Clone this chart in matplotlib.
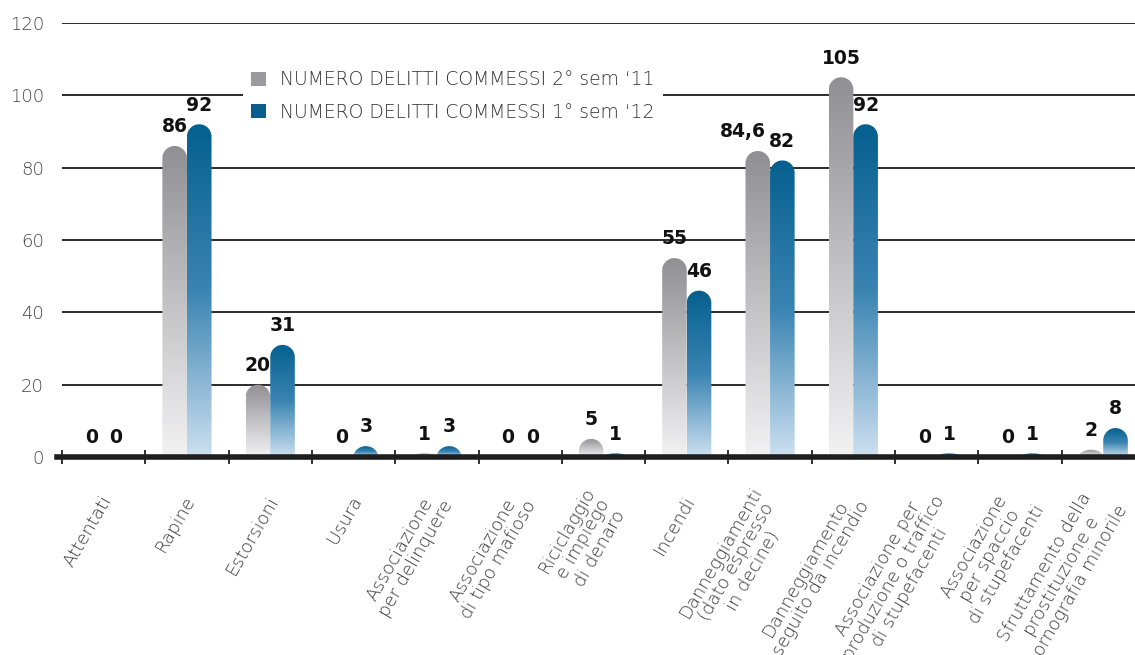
import numpy as np
import matplotlib
matplotlib.use('Agg')
import matplotlib.pyplot as plt
from matplotlib.colors import LinearSegmentedColormap
from matplotlib.patches import Patch, PathPatch
from matplotlib.path import Path
from matplotlib.transforms import ScaledTranslation

categories = [
    'Attentati',
    'Rapine',
    'Estorsioni',
    'Usura',
    'Associazione\nper delinquere',
    'Associazione\ndi tipo mafioso',
    'Riciclaggio\ne impiego\ndi denaro',
    'Incendi',
    'Danneggiamenti\n(dato espresso\nin decine)',
    'Danneggiamento\nseguito da incendio',
    'Associazione per\nproduzione o traffico\ndi stupefacenti',
    'Associazione\nper spaccio\ndi stupefacenti',
    'Sfruttamento della\nprostituzione e\npornografia minorile',
]
sem2_2011 = [0, 86, 20, 0, 1, 0, 5, 55, 84.6, 105, 0, 0, 2]
sem1_2012 = [0, 92, 31, 3, 3, 0, 1, 46, 82, 92, 1, 1, 8]
sem2_labels = ['0', '86', '20', '0', '1', '0', '5', '55', '84,6', '105', '0', '0', '2']
sem1_labels = ['0', '92', '31', '3', '3', '0', '1', '46', '82', '92', '1', '1', '8']
series_names = ["NUMERO DELITTI COMMESSI 2° sem \u201811",
                "NUMERO DELITTI COMMESSI 1° sem \u201812"]
yticks = [0, 20, 40, 60, 80, 100, 120]

grey_cmap = LinearSegmentedColormap.from_list('g', ['#8f8f94', '#c2c2c5', '#f2f2f3'])
blue_cmap = LinearSegmentedColormap.from_list('b', ['#05608f', '#3a84b2', '#cde0f0'])

LIGHT = dict(family='DejaVu Sans', fontweight='light')

W, H = 1135, 655
fig = plt.figure(figsize=(W / 100, H / 100), dpi=100)
ax = fig.add_axes([62 / W, 198 / H, 13 * 83.3 / W, 434 / H])
ax.set_xlim(-0.5, 12.5)
ax.set_ylim(0, 120)

bw = 0.295
px_x = 83.3
px_y = 434 / 120
ry_full = (bw / 2) * px_x / px_y
grad = np.linspace(0, 1, 256).reshape(-1, 1)


def rounded_bar(xc, h, cmap):
    if h <= 0:
        return
    x0, x1 = xc - bw / 2, xc + bw / 2
    ry = min(ry_full, h)
    base = h - ry
    t = np.linspace(0, np.pi, 40)
    arc = np.column_stack([xc - (bw / 2) * np.cos(t), base + ry * np.sin(t)])
    verts = np.vstack([[x0, 0], [x0, base], arc, [x1, base], [x1, 0], [x0, 0]])
    codes = [Path.MOVETO] + [Path.LINETO] * (len(verts) - 2) + [Path.CLOSEPOLY]
    patch = PathPatch(Path(verts, codes), facecolor='none', edgecolor='none',
                      transform=ax.transData)
    ax.add_patch(patch)
    im = ax.imshow(grad, cmap=cmap, extent=[x0, x1, 0, h], origin='upper',
                   aspect='auto', zorder=2, interpolation='bilinear')
    im.set_clip_path(patch)


x = np.arange(len(categories))
for i in x:
    for off, vals, labs, cmap in [(-bw / 2, sem2_2011, sem2_labels, grey_cmap),
                                  (bw / 2, sem1_2012, sem1_labels, blue_cmap)]:
        rounded_bar(i + off, vals[i], cmap)
        dx = -11 if len(labs[i]) > 3 else 0
        ax.annotate(labs[i], (i + off, vals[i]), xytext=(dx, 7),
                    textcoords='offset points', ha='center', va='bottom',
                    fontsize=13.5, fontweight='heavy', color='#111111',
                    family='DejaVu Sans', zorder=5)

ax.set_xlim(-0.5, 12.5)
ax.set_ylim(0, 120)

# grid
for y in yticks[1:]:
    ax.axhline(y, color='#1a1a1a', lw=1.3, zorder=1)

for s in ['top', 'right', 'left']:
    ax.spines[s].set_visible(False)
ax.spines['bottom'].set_linewidth(4)
ax.spines['bottom'].set_color('#1e1e1e')
ax.spines['bottom'].set_zorder(4)
ax.spines['bottom'].set_bounds(-0.56, 12.5)

ax.set_yticks(yticks)
ax.set_yticklabels([str(v) for v in yticks], fontsize=13, color='#444444', **LIGHT)
ax.tick_params(axis='y', length=0, pad=13)

ax.set_xticks(x)
ax.set_xticklabels(categories, rotation=60, ha='right', va='center',
                   rotation_mode='anchor', multialignment='center',
                   fontsize=13, color='#3a3a3a', linespacing=1.05, **LIGHT)
ax.tick_params(axis='x', which='major', length=0, pad=29)
shift = ScaledTranslation(4 / 100, 0, fig.dpi_scale_trans)
for lab in ax.get_xticklabels():
    lab.set_transform(lab.get_transform() + shift)
ax.set_xticks(np.arange(-0.5, 13, 1), minor=True)
ax.tick_params(axis='x', which='minor', direction='inout', length=10, width=1.3,
               color='#222222')

handles = [Patch(facecolor='#9b9b9f'), Patch(facecolor='#0b5e8c')]
leg = ax.legend(handles, series_names, loc='upper left',
                bbox_to_anchor=(243 / W, 1 - 62 / H), bbox_transform=fig.transFigure,
                frameon=True, facecolor='white', edgecolor='none', framealpha=1,
                handlelength=0.8, handleheight=0.8,
                handletextpad=0.75, labelspacing=0.7, borderpad=0.45,
                borderaxespad=0, prop={'family': 'DejaVu Sans', 'weight': 'light', 'size': 13.5})
leg.set_zorder(6)
for t in leg.get_texts():
    t.set_color('#333333')

fig.savefig('out.png', dpi=100)
